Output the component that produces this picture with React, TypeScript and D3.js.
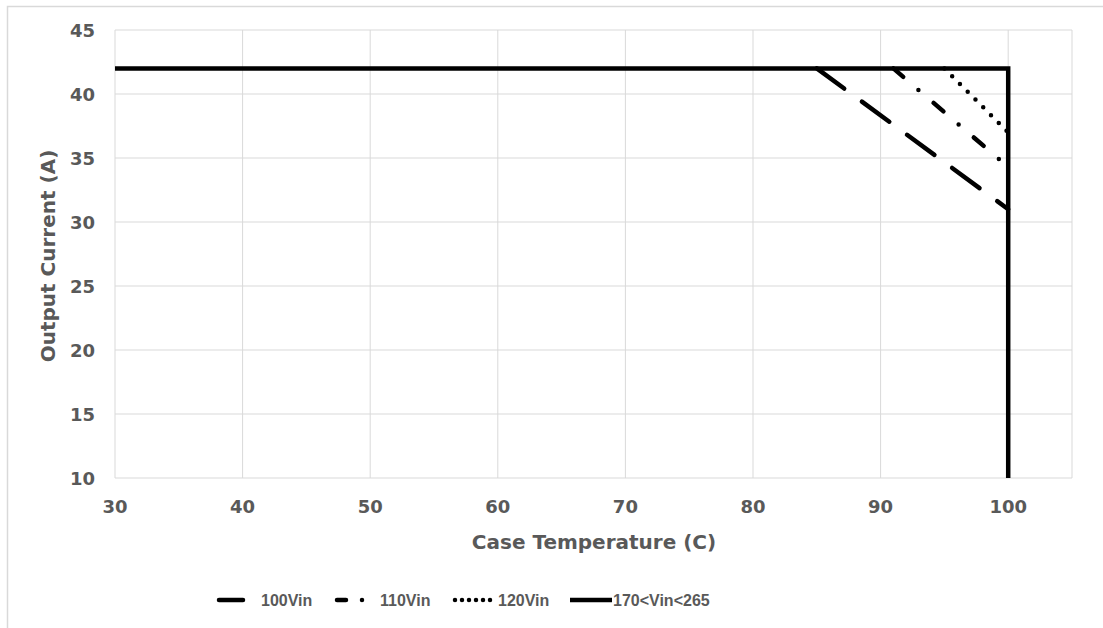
import React from "react";
import * as d3 from "d3";

const W = 1103;
const H = 628;

const xTicks = [30, 40, 50, 60, 70, 80, 90, 100];
const xGrid = [30, 40, 50, 60, 70, 80, 90, 100, 105];
const yTicks = [10, 15, 20, 25, 30, 35, 40, 45];

const series100: [number, number][] = [[85, 42], [100, 31]];
const series110: [number, number][] = [[91, 42], [100, 34.3]];
const series120: [number, number][] = [[95, 42], [100, 37]];
const series170: [number, number][] = [[30, 42], [100, 42], [100, 10]];

const legendLabels = ["100Vin", "110Vin", "120Vin", "170<Vin<265"];

const TICK_FONT = "'DejaVu Sans', sans-serif";
const LEG_FONT = "'Liberation Sans', Arial, sans-serif";
const GRAY = "#595959";
const GRID = "#d9d9d9";

export default function App() {
  const x = d3.scaleLinear().domain([30, 105]).range([115, 1072]);
  const y = d3.scaleLinear().domain([10, 45]).range([478, 30]);
  const line = d3
    .line<[number, number]>()
    .x((d) => x(d[0]))
    .y((d) => y(d[1]));

  const seriesDefs = [
    { data: series100, dash: "34 22", cap: "round" as const },
    { data: series110, dash: "13 20 0 20", cap: "round" as const },
    { data: series120, dash: "0 11", cap: "round" as const },
    { data: series170, dash: "none", cap: "butt" as const },
  ];

  const legendItems = [
    { x1: 219, x2: 243, dash: "none", cap: "round" as const, tx: 261 },
    { x1: 337, x2: 363, dash: "9 16 0 40", cap: "round" as const, tx: 380 },
    { x1: 455, x2: 491, dash: "0 7", cap: "round" as const, tx: 498 },
    { x1: 570, x2: 612, dash: "none", cap: "butt" as const, tx: 613 },
  ];

  return (
    <svg
      width={W}
      height={H}
      style={{ position: "absolute", left: 0, top: 0, background: "#fff" }}
    >
      <rect x={0} y={0} width={W} height={H} fill="#fff" />
      <rect x={7.5} y={6.5} width={1200} height={700} fill="none" stroke={GRID} strokeWidth={1.5} />
      {yTicks.map((t) => (
        <line key={"gy" + t} x1={x(30)} x2={x(105)} y1={y(t)} y2={y(t)} stroke={GRID} strokeWidth={1} />
      ))}
      {xGrid.map((t) => (
        <line key={"gx" + t} x1={x(t)} x2={x(t)} y1={y(10)} y2={y(45)} stroke={GRID} strokeWidth={1} />
      ))}
      {yTicks.map((t) => (
        <text
          key={"ty" + t}
          x={95}
          y={y(t) + 6.5}
          textAnchor="end"
          fontFamily={TICK_FONT}
          fontWeight="bold"
          fontSize={18}
          fill={GRAY}
        >
          {t}
        </text>
      ))}
      {xTicks.map((t) => (
        <text
          key={"tx" + t}
          x={x(t)}
          y={513}
          textAnchor="middle"
          fontFamily={TICK_FONT}
          fontWeight="bold"
          fontSize={18}
          fill={GRAY}
        >
          {t}
        </text>
      ))}
      <text
        x={594}
        y={549}
        textAnchor="middle"
        fontFamily={TICK_FONT}
        fontWeight="bold"
        fontSize={20}
        fill={GRAY}
      >
        Case Temperature (C)
      </text>
      <text
        transform="translate(55,256) rotate(-90)"
        textAnchor="middle"
        fontFamily={TICK_FONT}
        fontWeight="bold"
        fontSize={20}
        fill={GRAY}
      >
        Output Current (A)
      </text>
      {seriesDefs.map((s, i) => (
        <path
          key={"s" + i}
          d={line(s.data) || ""}
          fill="none"
          stroke="#000"
          strokeWidth={4.5}
          strokeDasharray={s.dash}
          strokeLinecap={s.cap}
          strokeLinejoin="miter"
        />
      ))}
      {legendItems.map((l, i) => (
        <g key={"lg" + i}>
          <line
            x1={l.x1}
            x2={l.x2}
            y1={600}
            y2={600}
            stroke="#000"
            strokeWidth={4.5}
            strokeDasharray={l.dash}
            strokeLinecap={l.cap}
          />
          <text
            x={l.tx}
            y={606}
            fontFamily={LEG_FONT}
            fontWeight="bold"
            fontSize={16}
            fill={GRAY}
          >
            {legendLabels[i]}
          </text>
        </g>
      ))}
    </svg>
  );
}
